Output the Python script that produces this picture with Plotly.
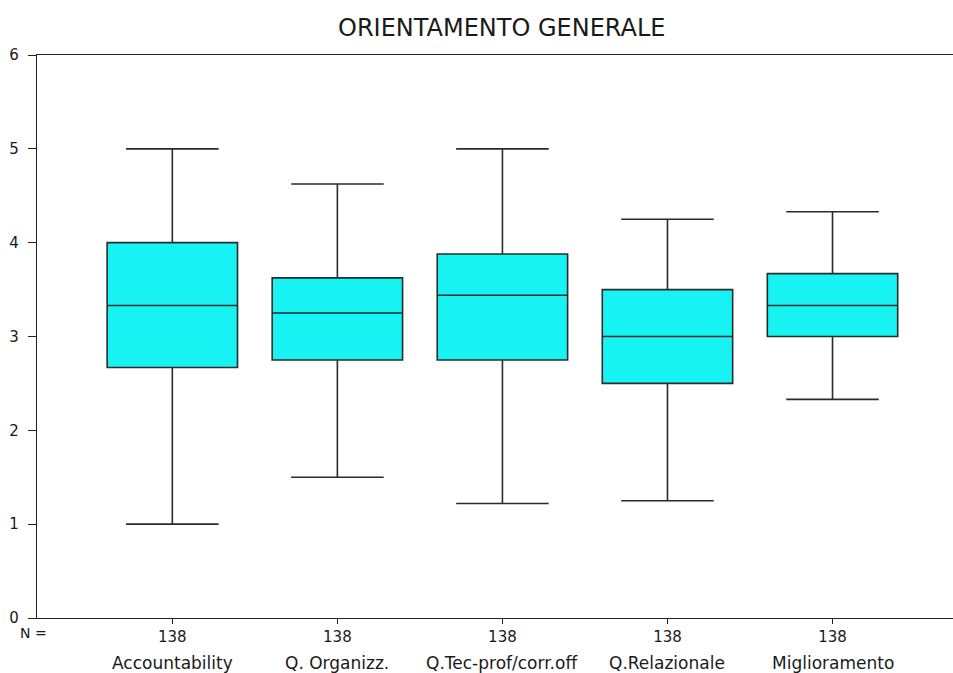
import plotly.graph_objects as go

# Box-plot summaries per dimension (scale 0-6)
categories = ["Accountability", "Q. Organizz.", "Q.Tec-prof/corr.off", "Q.Relazionale", "Miglioramento"]
n_values = [138, 138, 138, 138, 138]
lower_whisker = [1.0, 1.5, 1.22, 1.25, 2.33]
q1_values = [2.67, 2.75, 2.75, 2.5, 3.0]
median_values = [3.33, 3.25, 3.44, 3.0, 3.33]
q3_values = [4.0, 3.625, 3.88, 3.5, 3.67]
upper_whisker = [5.0, 4.625, 5.0, 4.25, 4.33]
y_ticks = [0, 1, 2, 3, 4, 5, 6]

W, H = 953, 673
ML, MR, MT, MB = 37, 0, 55, 55
FONT = "DejaVu Sans"
TXT = "#1a1a1a"

fig = go.Figure()
for i, name in enumerate(categories):
    fig.add_trace(go.Box(
        x=[i],
        q1=[q1_values[i]], median=[median_values[i]], q3=[q3_values[i]],
        lowerfence=[lower_whisker[i]], upperfence=[upper_whisker[i]],
        name=name,
        width=0.79,
        whiskerwidth=0.71,
        fillcolor="#17F2F2",
        line=dict(color="#2b2b2b", width=1.6),
        boxpoints=False,
        hoverinfo="skip",
        showlegend=False,
    ))

fig.update_layout(
    width=W, height=H,
    margin=dict(l=ML, r=MR, t=MT, b=MB),
    paper_bgcolor="white", plot_bgcolor="white",
    font=dict(family=FONT, color=TXT, size=14),
    showlegend=False,
    xaxis=dict(
        range=[-0.82, 4.73],
        tickmode="array",
        tickvals=list(range(len(categories))),
        ticktext=[str(n) for n in n_values],
        ticks="outside", ticklen=5, tickcolor="#222",
        showgrid=False, zeroline=False,
        showline=True, linecolor="#222", linewidth=1.3, mirror=True,
        tickfont=dict(size=15, family=FONT, color=TXT),
        fixedrange=True,
    ),
    yaxis=dict(
        range=[0, 6],
        tickmode="array",
        tickvals=y_ticks,
        ticks="outside", ticklen=8, tickcolor="#222",
        showgrid=False, zeroline=False,
        showline=True, linecolor="#222", linewidth=1.3,
        ticklabelstandoff=6,
        tickfont=dict(size=15, family=FONT, color=TXT),
        fixedrange=True,
    ),
)


# Helpers converting pixel positions into paper coordinates
def px_x(x):
    return (x - ML) / (W - ML - MR)


def px_y(y):
    return (H - MB - y) / (H - MB - MT)


fig.add_annotation(text="ORIENTAMENTO GENERALE", x=px_x(502), y=px_y(28),
                   xref="paper", yref="paper", showarrow=False,
                   xanchor="center", yanchor="middle",
                   font=dict(size=24, family=FONT, color=TXT))
fig.add_annotation(text="N =", x=px_x(33), y=px_y(633),
                   xref="paper", yref="paper", showarrow=False,
                   xanchor="center", yanchor="middle",
                   font=dict(size=14, family=FONT, color=TXT))
for i, name in enumerate(categories):
    fig.add_annotation(text=name, x=i, y=px_y(663),
                       xref="x", yref="paper", showarrow=False,
                       xanchor="center", yanchor="middle",
                       font=dict(size=17, family=FONT, color=TXT))

fig.write_html("out.html")
